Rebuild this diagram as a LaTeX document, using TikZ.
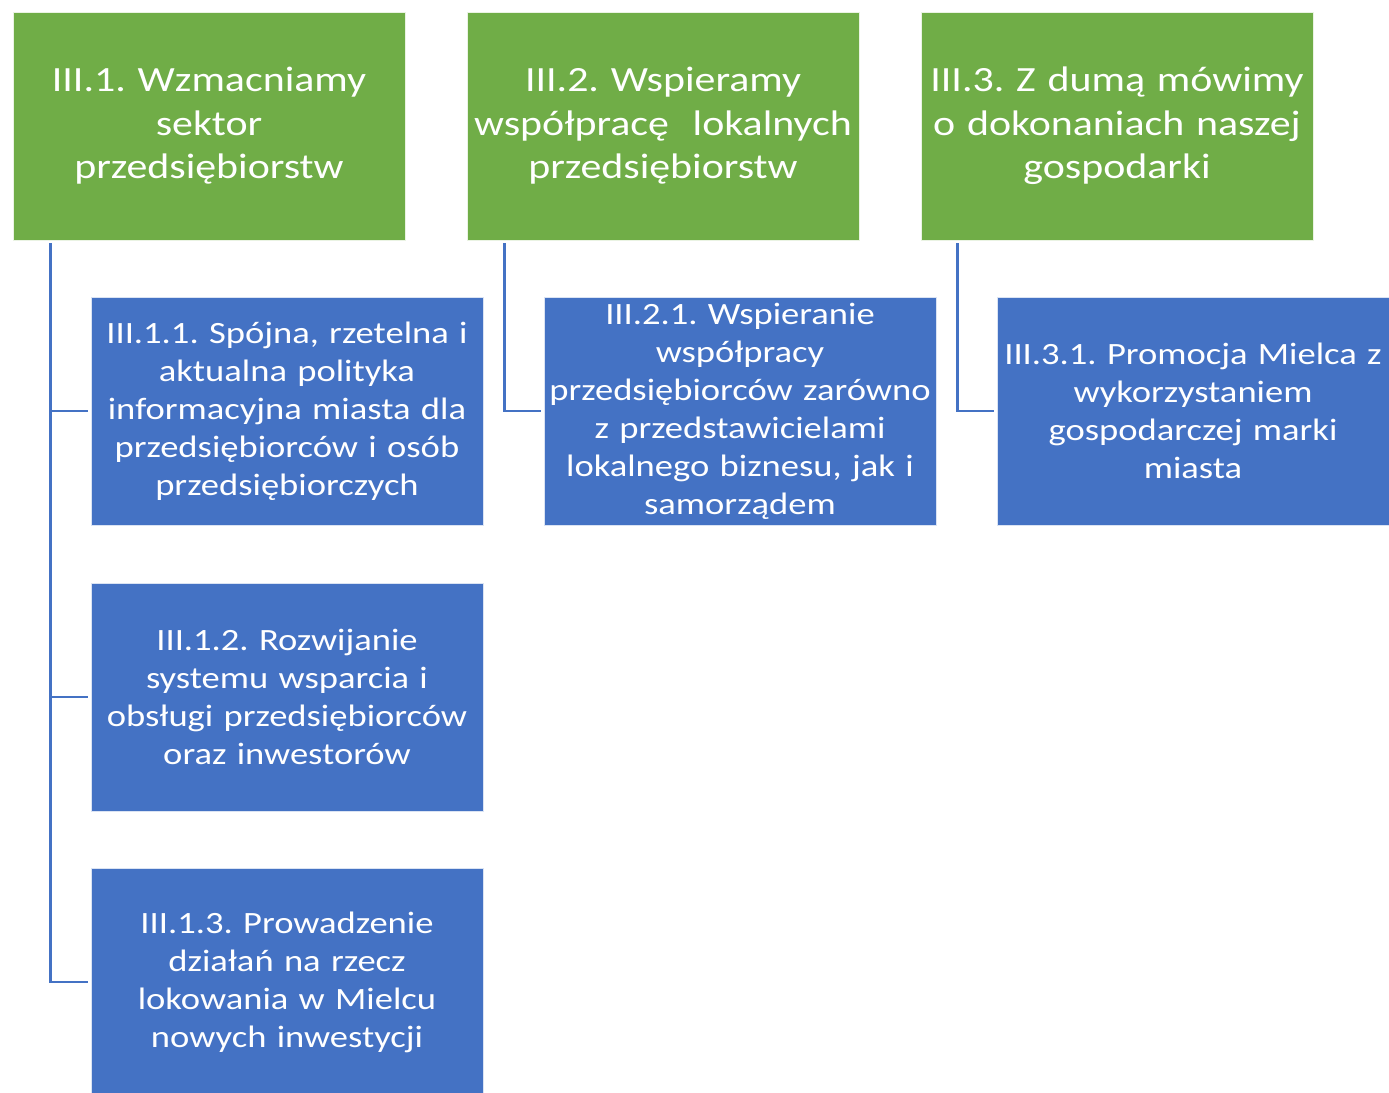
\documentclass[tikz,border=0pt]{standalone}
\usepackage{fontspec}
\setmainfont{Carlito}[FakeStretch=1.18]
\frenchspacing
\definecolor{cgreen}{HTML}{70AD47}
\definecolor{cblue}{HTML}{4472C4}
\tikzset{
  gbox/.style={fill=cgreen, draw=white!85!cgreen, line width=0.8pt, minimum width=392pt, minimum height=228pt, inner sep=0pt, text width=392pt, align=center, text=white, font=\fontsize{35.5}{43.5}\selectfont},
  bbox/.style={fill=cblue, draw=white!80!cblue, line width=0.8pt, minimum width=392pt, minimum height=228pt, inner sep=0pt, text width=392pt, align=center, text=white, font=\fontsize{31}{38}\selectfont},
  conn/.style={draw=cblue, line width=2.6pt}
}
\begin{document}
\begin{tikzpicture}[x=1pt,y=-1pt]
\useasboundingbox (0,0) rectangle (1389,1092);
\node[gbox] (g1) at (209,126) {III.1. Wzmacniamy\\sektor\\przedsiębiorstw};
\node[gbox] (g2) at (663,126) {III.2. Wspieramy\\współpracę\ \ lokalnych\\przedsiębiorstw};
\node[gbox] (g3) at (1117,126) {III.3. Z dumą mówimy\\o dokonaniach naszej\\gospodarki};
\node[bbox] (b11) at (287,411) {III.1.1. Spójna, rzetelna i\\aktualna polityka\\informacyjna miasta dla\\przedsiębiorców i osób\\przedsiębiorczych};
\node[bbox] (b12) at (287,697) {III.1.2. Rozwijanie\\systemu wsparcia i\\obsługi przedsiębiorców\\oraz inwestorów};
\node[bbox] (b13) at (287,982) {III.1.3. Prowadzenie\\działań na rzecz\\lokowania w Mielcu\\nowych inwestycji};
\node[bbox] (b21) at (740,411) {III.2.1. Wspieranie\\współpracy\\przedsiębiorców zarówno\\z przedstawicielami\\lokalnego biznesu, jak i\\samorządem};
\node[bbox] (b31) at (1193,411) {III.3.1. Promocja Mielca z\\wykorzystaniem\\gospodarczej marki\\miasta};
\draw[conn] ([xshift=38pt,yshift=-3pt]g1.south west) |- ([xshift=-3pt]b13.west);
\draw[conn] ([xshift=38pt,yshift=-3pt]g1.south west) |- ([xshift=-3pt]b12.west);
\draw[conn] ([xshift=38pt,yshift=-3pt]g1.south west) |- ([xshift=-3pt]b11.west);
\draw[conn] ([xshift=38pt,yshift=-3pt]g2.south west) |- ([xshift=-3pt]b21.west);
\draw[conn] ([xshift=37pt,yshift=-3pt]g3.south west) |- ([xshift=-3pt]b31.west);
\end{tikzpicture}
\end{document}
